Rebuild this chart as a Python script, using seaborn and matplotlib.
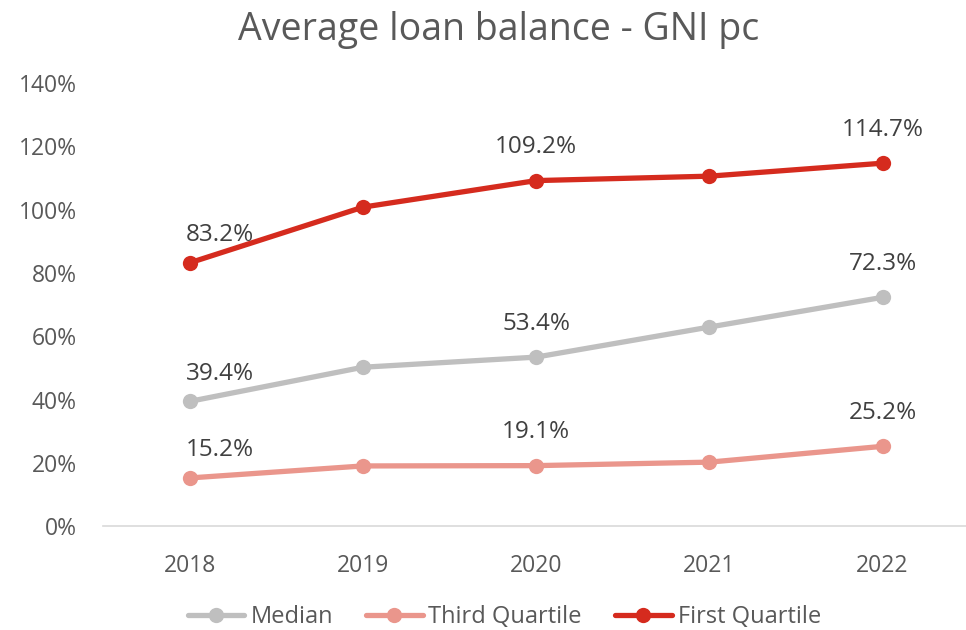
import pandas as pd
import seaborn as sns
from matplotlib import pyplot as plt
from matplotlib.ticker import PercentFormatter

years = [2018, 2019, 2020, 2021, 2022]
median = [39.4, 50.2, 53.4, 62.9, 72.3]
third_quartile = [15.2, 19.0, 19.1, 20.2, 25.2]
first_quartile = [83.2, 100.8, 109.2, 110.6, 114.7]
labelled_years = [2018, 2020, 2022]

series = {"Median": median, "Third Quartile": third_quartile, "First Quartile": first_quartile}
colors = {"Median": "#BFBFBF", "Third Quartile": "#EA968C", "First Quartile": "#D52B1E"}

df = pd.DataFrame(
    [(y, name, v) for name, vals in series.items() for y, v in zip(years, vals)],
    columns=["year", "series", "value"],
)

sns.set_style("white")
plt.rcParams["font.family"] = ["Open Sans", "DejaVu Sans"]

fig = plt.figure(figsize=(9.66, 6.30), dpi=100)
ax = fig.add_axes([0.1066, 0.165, 0.8967, 0.703])

sns.lineplot(
    data=df, x="year", y="value", hue="series", hue_order=list(series),
    palette=colors, marker="o", markersize=11, markeredgewidth=0,
    linewidth=3.8, ax=ax, legend=True,
)

for name, vals in series.items():
    for y, v in zip(years, vals):
        if y not in labelled_years:
            continue
        dx, dy = (22, 20) if y == years[0] else (0, 24)
        ax.annotate(f"{v:.1f}%", (y, v), xytext=(dx, dy), textcoords="offset points",
                    ha="center", va="center", fontsize=17.5, color="#404040")

ax.set_xlim(2017.5, 2022.5)
ax.set_ylim(0, 140)
ax.set_xticks(years)
ax.set_yticks(range(0, 141, 20))
ax.yaxis.set_major_formatter(PercentFormatter(decimals=0))
ax.tick_params(axis="both", length=0, labelsize=16.5, labelcolor="#595959")
ax.tick_params(axis="y", pad=19)
ax.tick_params(axis="x", pad=20)
ax.set_xlabel("")
ax.set_ylabel("")
for side in ["left", "right", "top"]:
    ax.spines[side].set_visible(False)
ax.spines["bottom"].set_color("#D9D9D9")
ax.spines["bottom"].set_linewidth(1.2)

ax.get_legend().remove()
handles, labels = ax.get_legend_handles_labels()
fig.legend(handles, labels, loc="center", bbox_to_anchor=(0.522, 0.021), ncol=3,
           frameon=False, fontsize=17, labelcolor="#595959", handlelength=2.4,
           handletextpad=0.25, columnspacing=1.4)

fig.suptitle("Average loan balance - GNI pc", x=0.5166, y=0.952, va="center",
             fontsize=27, color="#595959")

fig.savefig("out.png", dpi=100)
